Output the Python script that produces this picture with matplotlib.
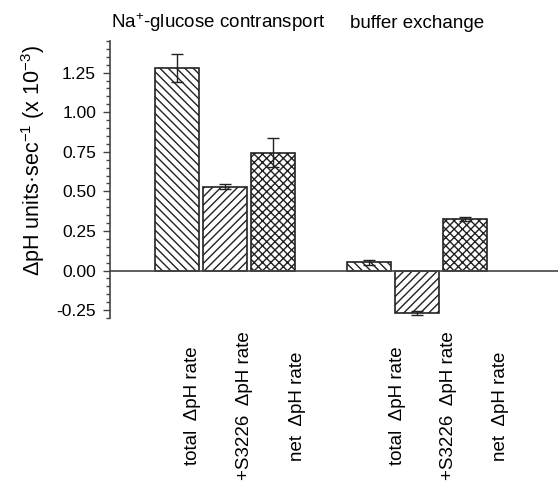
import matplotlib
matplotlib.use("Agg")
import matplotlib.pyplot as plt
from matplotlib.ticker import MultipleLocator, FixedLocator
import numpy as np

plt.rcParams['font.family'] = ['Liberation Sans', 'DejaVu Sans']
plt.rcParams['mathtext.fontset'] = 'custom'
plt.rcParams['mathtext.rm'] = 'Liberation Sans'
plt.rcParams['mathtext.it'] = 'Liberation Sans:italic'
plt.rcParams['mathtext.bf'] = 'Liberation Sans:bold'
plt.rcParams['hatch.linewidth'] = 1.0
plt.rcParams['hatch.color'] = '#222222'

# data
groups = ["Na$^{+}$-glucose contransport", "buffer exchange"]
categories = ["total  \u0394pH rate", "+S3226  \u0394pH rate", "net  \u0394pH rate"]
values = [1.28, 0.53, 0.745, 0.052, -0.27, 0.325]
errors = [0.09, 0.018, 0.09, 0.015, 0.014, 0.014]
hatches = ["\\\\\\\\", "////", "xxxx"]
yticks = [-0.25, 0, 0.25, 0.5, 0.75, 1.0, 1.25]

positions = [0, 1, 2, 4, 5, 6]
label_pos = [0.33, 1.41, 2.50, 4.60, 5.66, 6.75]
group_centers = [0.85, 5.0]

fig = plt.figure(figsize=(5.58, 4.84), dpi=100)
ax = fig.add_axes([110/558, 1-318/484, 1-110/558, (318-41)/484])

ink = '#222222'
for i, (p, v, e) in enumerate(zip(positions, values, errors)):
    ax.bar(p, v, width=0.92, facecolor='white', edgecolor=ink, linewidth=1.2,
           hatch=hatches[i % 3], zorder=2)
    ax.errorbar(p, v, yerr=e, fmt='none', ecolor=ink, elinewidth=1.0,
                capsize=4.5, capthick=1.0, zorder=3)

ax.axhline(0, color='#444444', linewidth=1.2, zorder=4)

ax.set_xlim(-1.4, 7.94)
ax.set_ylim(-0.30, 1.45)
for s in ['top', 'right', 'bottom']:
    ax.spines[s].set_visible(False)
ax.spines['left'].set_color('#444444')
ax.spines['left'].set_linewidth(1.2)

ax.yaxis.set_major_locator(FixedLocator(yticks))
ax.yaxis.set_minor_locator(MultipleLocator(0.05))
ax.set_yticklabels([f"{t:.2f}" for t in yticks])
ax.tick_params(axis='y', which='major', length=5, width=1.0, direction='out',
               labelsize=12.5, pad=5, color='#444444')
ax.tick_params(axis='y', which='minor', length=3, width=1.0, direction='out',
               color='#444444')
ax.set_xticks([])

ax.set_ylabel("\u0394pH units\u00b7sec$^{-1}$ (x 10$^{-3}$)", fontsize=15.5)
ax.yaxis.set_label_coords(-0.141, 0.57)

trans = ax.get_xaxis_transform()
for j, lp in enumerate(label_pos):
    ax.text(lp, -0.318, categories[j % 3], rotation=90, ha='center', va='center',
            fontsize=13.5, transform=trans, clip_on=False)

for g, gc in zip(groups, group_centers):
    ax.text(gc, 1.0 + 18/277, g, ha='center', va='center', fontsize=13.5,
            transform=trans, clip_on=False)

fig.savefig("out.png", dpi=100, facecolor='white')
